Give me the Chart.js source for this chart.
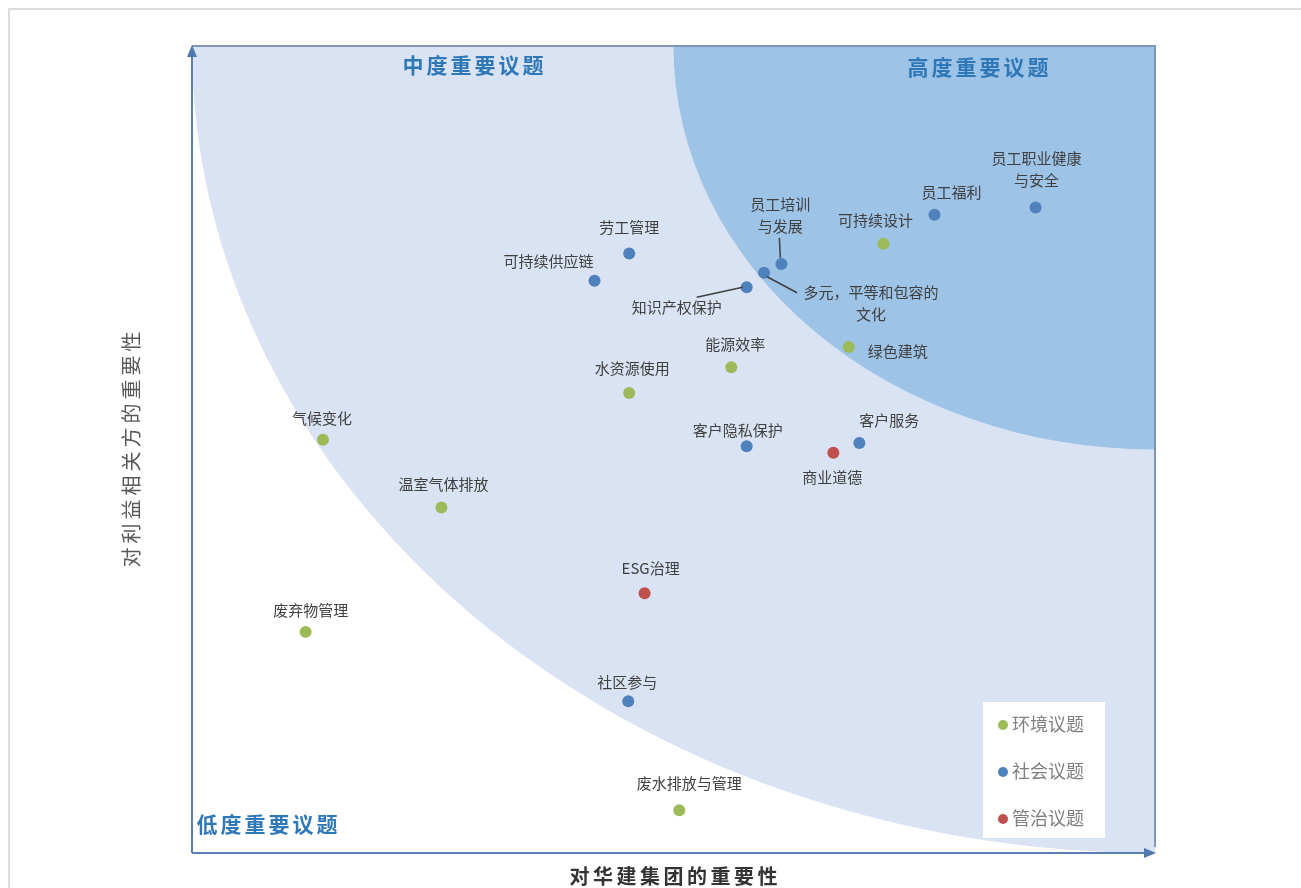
<!DOCTYPE html>
<html>
<head>
<meta charset="utf-8">
<script src="https://cdn.jsdelivr.net/npm/chart.js@4/dist/chart.umd.min.js"></script>
<style>
  html, body { margin: 0; padding: 0; background: #ffffff; }
  #wrap { position: relative; width: 1301px; height: 888px; overflow: hidden; }
  #frameTop { position: absolute; left: 8px; top: 8px; right: 0; height: 2px; background: #dcdcdc; }
  #frameLeft { position: absolute; left: 8px; top: 8px; bottom: 0; width: 2px; background: #dcdcdc; }
  canvas { position: absolute; left: 0; top: 0; }
</style>
</head>
<body>
<div id="wrap">
  <div id="frameTop"></div>
  <div id="frameLeft"></div>
  <canvas id="c" width="1301" height="888"></canvas>
</div>
<script>
// ---------------- DATA ----------------
const envNames = ['可持续设计', '绿色建筑', '能源效率', '水资源使用', '气候变化', '温室气体排放', '废弃物管理', '废水排放与管理'];
const envX = [7.18, 6.82, 5.60, 4.54, 1.36, 2.59, 1.18, 5.06];
const envY = [7.55, 6.27, 6.02, 5.70, 5.12, 4.28, 2.74, 0.53];

const socNames = ['员工职业健康\n与安全', '员工福利', '员工培训\n与发展', '多元，平等和包容的\n文化', '知识产权保护', '劳工管理', '可持续供应链', '客户隐私保护', '客户服务', '社区参与'];
const socX = [8.76, 7.71, 6.12, 5.94, 5.76, 4.54, 4.18, 5.76, 6.93, 4.53];
const socY = [8.00, 7.91, 7.30, 7.19, 7.01, 7.43, 7.09, 5.04, 5.08, 1.88];

const govNames = ['商业道德', 'ESG治理'];
const govX = [6.66, 4.70];
const govY = [4.96, 3.22];

const seriesNames = ['环境议题', '社会议题', '管治议题'];
const zoneNames = ['中度重要议题', '高度重要议题', '低度重要议题'];
const xTitle = '对华建集团的重要性';
const yTitle = '对利益相关方的重要性';
const axisMin = 0, axisMax = 10;

// ---------------- LAYOUT / STYLE ----------------
const colors = ['#9bbb59', '#4f81bd', '#c0504d'];
// label offsets (pixels) relative to each point: [dx, dy of first line centre], optional leader line
const labelLayout = {
  '可持续设计': { dx: -8, dy: -23 },
  '绿色建筑': { dx: 49, dy: 4 },
  '能源效率': { dx: 4, dy: -23 },
  '水资源使用': { dx: 3, dy: -25 },
  '气候变化': { dx: -1, dy: -22 },
  '温室气体排放': { dx: 2, dy: -23 },
  '废弃物管理': { dx: 5, dy: -22 },
  '废水排放与管理': { dx: 10, dy: -27 },
  '员工职业健康\n与安全': { dx: 1, dy: -49 },
  '员工福利': { dx: 17, dy: -22 },
  '员工培训\n与发展': { dx: -1, dy: -60, leader: [-2, -26, -1, -6] },
  '多元，平等和包容的\n文化': { dx: 107, dy: 20, leader: [3, 4, 33, 20] },
  '知识产权保护': { dx: -70, dy: 20, leader: [-4, 0, -50, 10] },
  '劳工管理': { dx: 0, dy: -26 },
  '可持续供应链': { dx: -46, dy: -20 },
  '客户隐私保护': { dx: -9, dy: -16 },
  '客户服务': { dx: 30, dy: -23 },
  '社区参与': { dx: -1, dy: -19 },
  '商业道德': { dx: -1, dy: 25 },
  'ESG治理': { dx: 6, dy: -25 }
};

function pts(xs, ys, names) {
  return xs.map((v, i) => ({ x: v, y: ys[i], name: names[i] }));
}

function drawSpaced(ctx, text, cx, cy, step) {
  const chars = Array.from(text);
  const total = step * chars.length;
  let x = cx - total / 2 + step / 2;
  ctx.textAlign = 'center';
  for (const ch of chars) { ctx.fillText(ch, x, cy); x += step; }
}

const decor = {
  id: 'decor',
  beforeDatasetsDraw(chart) {
    const { ctx, chartArea: a, scales: { x, y } } = chart;
    const cx = x.getPixelForValue(axisMax), cy = y.getPixelForValue(axisMax);
    const rx = cx - x.getPixelForValue(axisMin), ry = y.getPixelForValue(axisMin) - cy;
    ctx.save();
    ctx.beginPath(); ctx.rect(a.left, a.top, a.right - a.left, a.bottom - a.top); ctx.clip();
    ctx.fillStyle = '#dae3f3';
    ctx.beginPath(); ctx.ellipse(cx, cy, rx, ry, 0, 0, Math.PI * 2); ctx.fill();
    ctx.fillStyle = '#9dc3e6';
    ctx.beginPath(); ctx.ellipse(cx, cy, rx / 2, ry / 2, 0, 0, Math.PI * 2); ctx.fill();
    ctx.restore();

    ctx.save();
    // top & right border
    ctx.strokeStyle = '#7f95b5'; ctx.lineWidth = 2;
    ctx.beginPath(); ctx.moveTo(a.left, a.top); ctx.lineTo(a.right, a.top); ctx.lineTo(a.right, a.bottom - 6); ctx.stroke();
    // axes
    ctx.strokeStyle = '#5b7fb4'; ctx.fillStyle = '#4f78b0'; ctx.lineWidth = 2;
    ctx.beginPath(); ctx.moveTo(a.left, a.bottom); ctx.lineTo(a.left, a.top + 8); ctx.stroke();
    ctx.beginPath(); ctx.moveTo(a.left, a.top - 1); ctx.lineTo(a.left - 5, a.top + 11); ctx.lineTo(a.left + 5, a.top + 11); ctx.closePath(); ctx.fill();
    ctx.beginPath(); ctx.moveTo(a.left, a.bottom); ctx.lineTo(a.right - 8, a.bottom); ctx.stroke();
    ctx.beginPath(); ctx.moveTo(a.right + 1, a.bottom); ctx.lineTo(a.right - 11, a.bottom - 5); ctx.lineTo(a.right - 11, a.bottom + 5); ctx.closePath(); ctx.fill();
    ctx.restore();
  },
  afterDatasetsDraw(chart) {
    const { ctx, chartArea: a } = chart;
    ctx.save();
    // point labels
    ctx.font = '15px "Noto Sans CJK SC", sans-serif';
    ctx.fillStyle = '#404040';
    ctx.textBaseline = 'middle';
    ctx.textAlign = 'center';
    chart.data.datasets.forEach((ds, di) => {
      const meta = chart.getDatasetMeta(di);
      meta.data.forEach((el, i) => {
        const name = ds.data[i].name;
        const L = labelLayout[name] || { dx: 0, dy: -22 };
        const lines = name.split('\n');
        lines.forEach((ln, k) => ctx.fillText(ln, el.x + L.dx, el.y + L.dy + k * 22));
        if (L.leader) {
          ctx.strokeStyle = '#404040'; ctx.lineWidth = 1.5;
          ctx.beginPath();
          ctx.moveTo(el.x + L.leader[0], el.y + L.leader[1]);
          ctx.lineTo(el.x + L.leader[2], el.y + L.leader[3]);
          ctx.stroke();
        }
      });
    });
    // zone titles
    ctx.fillStyle = '#2f78b8';
    ctx.font = 'bold 21px "Noto Sans CJK SC", sans-serif';
    drawSpaced(ctx, zoneNames[0], 473, 65, 24);
    drawSpaced(ctx, zoneNames[1], 978, 67, 24);
    drawSpaced(ctx, zoneNames[2], 267, 824, 24);
    // legend
    ctx.fillStyle = '#ffffff';
    ctx.fillRect(983, 702, 122, 136);
    ctx.font = '18px "Noto Sans CJK SC", sans-serif';
    seriesNames.forEach((s, i) => {
      const yy = 724 + i * 47;
      ctx.fillStyle = colors[i];
      ctx.beginPath(); ctx.arc(1003, yy + 1, 5, 0, Math.PI * 2); ctx.fill();
      ctx.fillStyle = '#7f7f7f';
      ctx.textAlign = 'left';
      ctx.fillText(s, 1012, yy);
    });
    // axis titles
    ctx.fillStyle = '#333333';
    ctx.font = 'bold 20px "Noto Sans CJK SC", sans-serif';
    drawSpaced(ctx, xTitle, (a.left + a.right) / 2, 876, 23.5);
    ctx.save();
    ctx.translate(131, (a.top + a.bottom) / 2);
    ctx.rotate(-Math.PI / 2);
    ctx.fillStyle = '#595959';
    ctx.font = '20px "Noto Sans CJK SC", sans-serif';
    drawSpaced(ctx, yTitle, 0, 0, 24);
    ctx.restore();
    ctx.restore();
  }
};

new Chart(document.getElementById('c'), {
  type: 'scatter',
  data: {
    datasets: [
      { label: seriesNames[0], data: pts(envX, envY, envNames), backgroundColor: colors[0] },
      { label: seriesNames[1], data: pts(socX, socY, socNames), backgroundColor: colors[1] },
      { label: seriesNames[2], data: pts(govX, govY, govNames), backgroundColor: colors[2] }
    ]
  },
  options: {
    responsive: false,
    animation: false,
    events: [],
    elements: { point: { radius: 6, hoverRadius: 6, borderWidth: 0 } },
    layout: { padding: { left: 192, top: 46, right: 146, bottom: 35 } },
    plugins: { legend: { display: false }, tooltip: { enabled: false } },
    scales: {
      x: { type: 'linear', min: axisMin, max: axisMax, display: false },
      y: { type: 'linear', min: axisMin, max: axisMax, display: false }
    }
  },
  plugins: [decor]
});
</script>
</body>
</html>
